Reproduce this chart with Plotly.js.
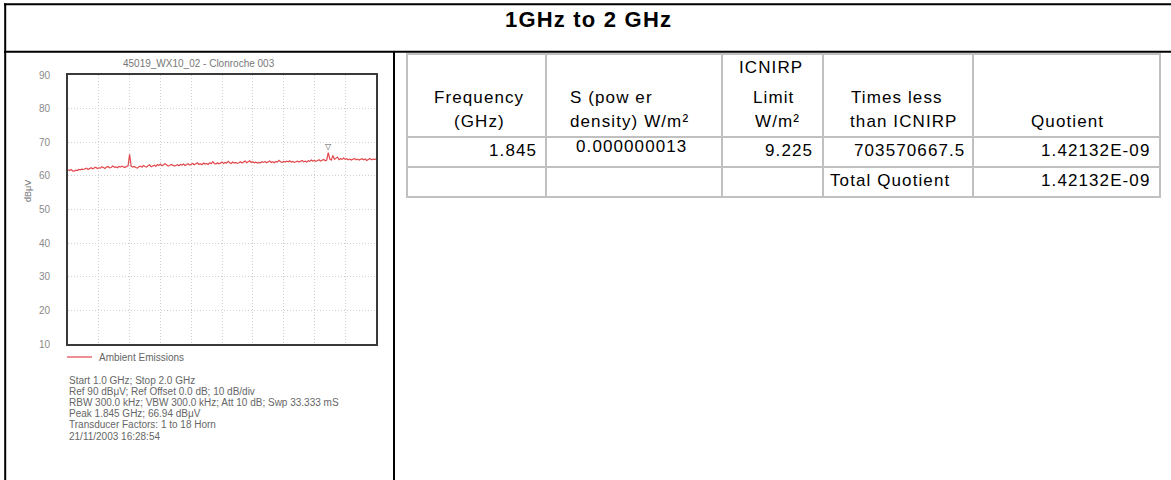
<!DOCTYPE html>
<html><head><meta charset="utf-8">
<script src="https://cdn.plot.ly/plotly-3.0.1.min.js"></script>
<style>html,body{margin:0;padding:0;background:#fff}#chart{width:1171px;height:480px}</style>
</head><body><div id="chart"></div><script>
// ---------- DATA ----------
const freqGHz = [
1.000,1.005,1.010,1.015,1.020,1.025,1.030,1.035,1.040,1.045,
1.050,1.055,1.060,1.065,1.070,1.075,1.080,1.085,1.090,1.095,
1.100,1.105,1.110,1.115,1.120,1.125,1.130,1.135,1.140,1.145,
1.150,1.155,1.160,1.165,1.170,1.175,1.180,1.185,1.190,1.195,
1.200,1.205,1.210,1.215,1.220,1.225,1.230,1.235,1.240,1.245,
1.250,1.255,1.260,1.265,1.270,1.275,1.280,1.285,1.290,1.295,
1.300,1.305,1.310,1.315,1.320,1.325,1.330,1.335,1.340,1.345,
1.350,1.355,1.360,1.365,1.370,1.375,1.380,1.385,1.390,1.395,
1.400,1.405,1.410,1.415,1.420,1.425,1.430,1.435,1.440,1.445,
1.450,1.455,1.460,1.465,1.470,1.475,1.480,1.485,1.490,1.495,
1.500,1.505,1.510,1.515,1.520,1.525,1.530,1.535,1.540,1.545,
1.550,1.555,1.560,1.565,1.570,1.575,1.580,1.585,1.590,1.595,
1.600,1.605,1.610,1.615,1.620,1.625,1.630,1.635,1.640,1.645,
1.650,1.655,1.660,1.665,1.670,1.675,1.680,1.685,1.690,1.695,
1.700,1.705,1.710,1.715,1.720,1.725,1.730,1.735,1.740,1.745,
1.750,1.755,1.760,1.765,1.770,1.775,1.780,1.785,1.790,1.795,
1.800,1.805,1.810,1.815,1.820,1.825,1.830,1.835,1.840,1.845,
1.850,1.855,1.860,1.865,1.870,1.875,1.880,1.885,1.890,1.895,
1.900,1.905,1.910,1.915,1.920,1.925,1.930,1.935,1.940,1.945,
1.950,1.955,1.960,1.965,1.970,1.975,1.980,1.985,1.990,1.995,
2.000];
const levelDbuV = [
61.8,61.6,61.9,61.5,61.4,61.7,61.6,61.9,61.8,62.0,
61.9,62.1,62.3,61.9,62.2,62.4,62.1,62.3,62.6,62.2,
62.4,62.3,62.7,62.5,62.2,62.6,62.8,62.4,62.5,62.9,
62.6,62.7,62.4,62.8,62.6,62.9,62.7,62.5,62.8,63.0,
66.4,62.9,62.6,62.8,62.5,62.3,62.7,62.9,62.6,63.1,
62.8,62.6,63.0,63.3,62.7,62.9,63.2,62.8,63.4,63.1,
63.5,63.0,63.2,63.6,63.3,62.9,63.1,63.4,63.2,62.9,
63.1,63.3,63.0,63.4,63.2,63.5,63.1,63.3,63.6,63.2,
63.4,63.7,63.3,63.5,63.9,63.4,63.6,63.3,63.8,63.5,
63.7,63.4,63.9,63.6,64.2,63.7,63.5,63.9,63.6,63.8,
64.1,63.7,64.0,63.8,64.3,63.9,63.7,64.1,63.8,64.0,
63.7,63.9,64.2,63.8,64.0,64.4,63.9,64.1,64.5,64.0,
64.2,63.9,64.1,63.8,64.0,63.9,64.2,64.0,64.3,63.9,
64.1,64.4,64.0,64.2,63.9,64.3,64.1,64.6,64.2,64.0,
64.3,64.1,64.4,64.2,64.5,64.1,64.3,64.0,64.2,64.4,
64.1,64.3,64.6,64.2,64.4,64.1,64.5,64.3,64.7,64.4,
64.6,64.3,64.5,64.8,64.4,64.6,64.9,64.5,64.7,66.94,
65.0,64.7,66.1,64.9,65.2,65.6,64.8,65.1,64.9,65.3,
64.9,65.1,64.8,65.0,64.7,64.9,65.2,64.8,65.0,64.7,
64.9,65.1,64.8,65.0,64.6,64.9,65.2,64.8,65.0,64.9,
65.0];
const peakFreq = 1.845;
const peakLevel = 66.94;
const yTicks = [10,20,30,40,50,60,70,80,90];
const pageTitle = "1GHz to 2 GHz";
const chartTitle = "45019_WX10_02 - Clonroche 003";
const yUnit = "dBμV";
const seriesName = "Ambient Emissions";
const infoLines = [
 "Start 1.0 GHz; Stop 2.0 GHz",
 "Ref 90 dBμV; Ref Offset 0.0 dB; 10 dB/div",
 "RBW 300.0 kHz; VBW 300.0 kHz; Att 10 dB; Swp 33.333 mS",
 "Peak 1.845 GHz; 66.94 dBμV",
 "Transducer Factors: 1 to 18 Horn",
 "21/11/2003 16:28:54"
];
const headerFrequency = ["Frequency","(GHz)"];
const headerS = ["S (pow er","density) W/m²"];
const headerLimit = ["ICNIRP","Limit","W/m²"];
const headerTimes = ["Times less","than ICNIRP"];
const headerQuotient = ["Quotient"];
const rowValues = ["1.845","0.000000013","9.225","703570667.5","1.42132E-09"];
const totalLabel = "Total Quotient";
const totalQuotient = "1.42132E-09";

// ---------- LAYOUT HELPERS ----------
const W = 1171, H = 480;
const fx = p => p / W;
const fy = p => 1 - p / H;
const shapes = [];
function hline(x0, x1, y, color, w) {
  shapes.push({type:'line', xref:'paper', yref:'paper', x0:fx(x0), x1:fx(x1), y0:fy(y), y1:fy(y), line:{color:color, width:w}});
}
function vline(x, y0, y1, color, w) {
  shapes.push({type:'line', xref:'paper', yref:'paper', x0:fx(x), x1:fx(x), y0:fy(y0), y1:fy(y1), line:{color:color, width:w}});
}
const annotations = [];
const TF = 'Liberation Sans, Arial, sans-serif';
function txt(t, x, y, anchor, size, color, opts) {
  const o = Object.assign({
    text: t, xref:'paper', yref:'paper', x:fx(x), y:fy(y), xanchor:anchor, yanchor:'middle',
    showarrow:false, font:{family:TF, size:size, color:color}
  }, opts || {});
  annotations.push(o);
}
const ls = (t, s) => '<span style="letter-spacing:' + s + 'px">' + t + '</span>';

// Table grid (gray)
const gridCol = '#c0c0c0';
const colX = [407, 546, 722, 823, 973, 1160];
const rowY = [54, 137, 167, 197];
colX.forEach(x => vline(x, 53, 197, gridCol, 2));
rowY.forEach(y => hline(406, 1161, y, gridCol, 2));

// Black frame
hline(4, 1171, 4.3, '#000', 2);
hline(4, 1171, 51.8, '#000', 2);
vline(5.2, 3.3, 480, '#000', 2);
vline(394, 51, 480, '#000', 2);

// Page title
txt('<b>' + ls(pageTitle, 1.2) + '</b>', 588, 20, 'center', 22, '#000');

// Table headers
const TS = 17, LS = 1.1;
txt(ls(headerFrequency[0], LS), 479, 97, 'center', TS, '#000');
txt(ls(headerFrequency[1], LS), 479, 121, 'center', TS, '#000');
txt(ls(headerS[0], LS), 568, 97, 'left', TS, '#000');
txt(ls(headerS[1], LS), 568, 121, 'left', TS, '#000');
txt(ls(headerLimit[0], LS), 771, 67, 'center', TS, '#000');
txt(ls(headerLimit[1], LS), 773, 97, 'center', TS, '#000');
txt(ls(headerLimit[2], LS), 777, 121, 'center', TS, '#000');
txt(ls(headerTimes[0], LS), 897, 97, 'center', TS, '#000');
txt(ls(headerTimes[1], LS), 904, 121, 'center', TS, '#000');
txt(ls(headerQuotient[0], LS), 1067, 121, 'center', TS, '#000');

// Data row
txt(ls(rowValues[0], LS), 539, 150, 'right', TS, '#000');
txt(ls(rowValues[1], LS), 631, 146, 'center', TS, '#000');
txt(ls(rowValues[2], LS), 815, 150, 'right', TS, '#000');
txt(ls(rowValues[3], LS), 967, 150, 'right', TS, '#000');
txt(ls(rowValues[4], LS), 1152, 150, 'right', TS, '#000');
// Total row
txt(ls(totalLabel, LS), 828, 180, 'left', TS, '#000');
txt(ls(totalQuotient, LS), 1152, 180, 'right', TS, '#000');

// Chart texts
txt(chartTitle, 199, 64, 'center', 10, '#777');
txt(yUnit, 28, 191, 'center', 9, '#777', {textangle:-90});
hline(67, 92, 357, '#e2474b', 1.2);
txt(seriesName, 97, 357, 'left', 10, '#666');
infoLines.forEach((l, i) => txt(l, 67, 380 + i * 11.2, 'left', 10, '#666'));

// Peak marker
annotations.push({x:peakFreq, y:peakLevel, xref:'x', yref:'y', text:'▽', showarrow:false,
  yanchor:'bottom', xanchor:'center', font:{family:'DejaVu Sans', size:8, color:'#555'}});

const trace = {
  x: freqGHz, y: levelDbuV, type:'scatter', mode:'lines', name: seriesName,
  line:{color:'#e2474b', width:1.2}, hoverinfo:'skip'
};

const layout = {
  width: W, height: H, margin:{l:0, r:0, t:0, b:0},
  paper_bgcolor:'#fff', plot_bgcolor:'#fff', showlegend:false,
  xaxis:{domain:[fx(68), fx(376)], range:[1, 2], tick0:1, dtick:0.1, showticklabels:false, ticks:'',
    showgrid:true, gridcolor:'#d0d0d0', griddash:'1px,2px', gridwidth:1, zeroline:false,
    showline:true, linecolor:'#3a3a3a', linewidth:2, mirror:true, fixedrange:true},
  yaxis:{domain:[fy(344), fy(75)], range:[10, 90], tickvals:yTicks, ticks:'', ticklabelstandoff:14,
    tickfont:{family:TF, size:10, color:'#8a8a8a'},
    showgrid:true, gridcolor:'#d0d0d0', griddash:'1px,2px', gridwidth:1, zeroline:false,
    showline:true, linecolor:'#3a3a3a', linewidth:2, mirror:true, fixedrange:true},
  shapes: shapes, annotations: annotations
};
Plotly.newPlot('chart', [trace], layout, {displayModeBar:false, staticPlot:true});
</script></body></html>
